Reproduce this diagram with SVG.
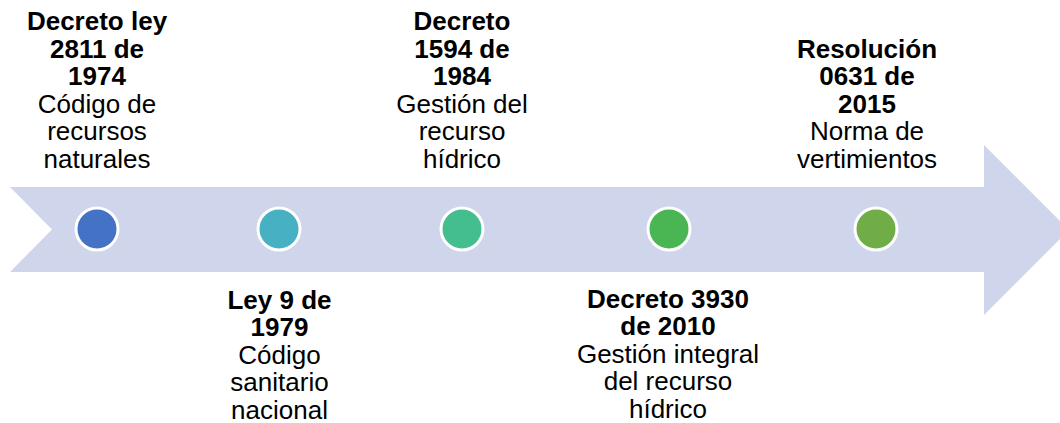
<svg xmlns="http://www.w3.org/2000/svg" width="1060" height="423" viewBox="0 0 1060 423">
<style>
.t{font-family:"Liberation Sans",Arial,sans-serif;font-size:26px;fill:#000;text-anchor:middle}
.b{font-weight:bold}
.dot{stroke:#fff;stroke-width:3}
</style>
<rect width="1060" height="423" fill="#fff"/>
<g id="arrow">
<polygon points="10,187 984,187 984,145 1069,230 984,315 984,272 10,272 52,229.5" fill="#CFD5EA"/>
</g>
<g id="connectors"></g>
<g id="n1">
<circle class="dot" cx="97" cy="229" r="21" fill="#4472C4"/>
<text class="t"><tspan class="b" x="97" y="30">Decreto ley</tspan><tspan class="b" x="97" y="57.6">2811 de</tspan><tspan class="b" x="97" y="85.2">1974</tspan><tspan x="97" y="112.8">Código de</tspan><tspan x="97" y="140.4">recursos</tspan><tspan x="97" y="168">naturales</tspan></text>
</g>
<g id="n2">
<circle class="dot" cx="279" cy="229" r="21" fill="#47B0C2"/>
<text class="t"><tspan class="b" x="279.5" y="308.5">Ley 9 de</tspan><tspan class="b" x="279.5" y="336">1979</tspan><tspan x="279.5" y="363.5">Código</tspan><tspan x="279.5" y="391">sanitario</tspan><tspan x="279.5" y="418.5">nacional</tspan></text>
</g>
<g id="n3">
<circle class="dot" cx="462" cy="229" r="21" fill="#45BE8F"/>
<text class="t"><tspan class="b" x="462" y="30">Decreto</tspan><tspan class="b" x="462" y="57.6">1594 de</tspan><tspan class="b" x="462" y="85.2">1984</tspan><tspan x="462" y="112.8">Gestión del</tspan><tspan x="462" y="140.4">recurso</tspan><tspan x="462" y="168">hídrico</tspan></text>
</g>
<g id="n4">
<circle class="dot" cx="669" cy="229" r="21" fill="#4AB553"/>
<text class="t"><tspan class="b" x="668" y="307.5">Decreto 3930</tspan><tspan class="b" x="668" y="335">de 2010</tspan><tspan x="668" y="362.5">Gestión integral</tspan><tspan x="668" y="390">del recurso</tspan><tspan x="668" y="417.5">hídrico</tspan></text>
</g>
<g id="n5">
<circle class="dot" cx="876" cy="229" r="21" fill="#70AD47"/>
<text class="t"><tspan class="b" x="867" y="57.6">Resolución</tspan><tspan class="b" x="867" y="85.2">0631 de</tspan><tspan class="b" x="867" y="112.8">2015</tspan><tspan x="867" y="140.4">Norma de</tspan><tspan x="867" y="168">vertimientos</tspan></text>
</g>
</svg>
